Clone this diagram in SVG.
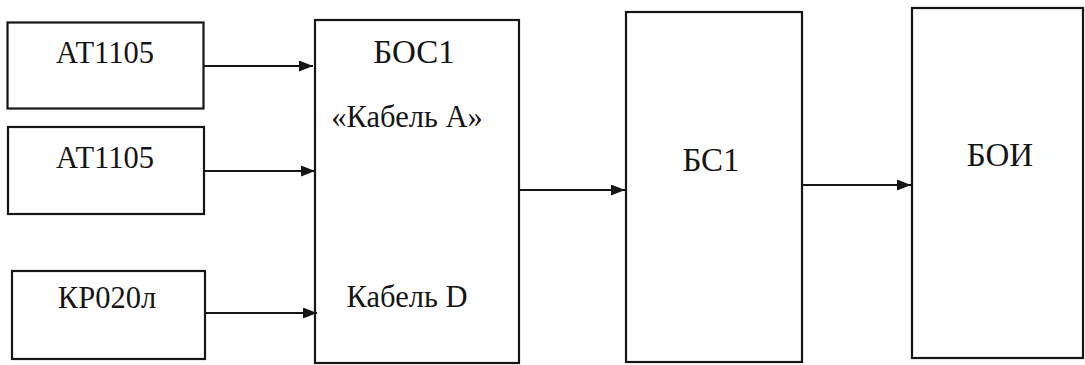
<svg xmlns="http://www.w3.org/2000/svg" width="1085" height="365" viewBox="0 0 1085 365">
<style>
.box{fill:#fff;stroke:#151515;stroke-width:2.2}
.lbl{font-family:'Liberation Serif','Times New Roman',serif;font-size:30.5px;fill:#151515;text-anchor:middle}
.ttl{font-size:33px}
.con{stroke:#151515;stroke-width:2.2;fill:none}
</style>
<defs>
<marker id="ah" markerWidth="14" markerHeight="11" refX="14" refY="5.5" orient="auto" markerUnits="userSpaceOnUse">
<path d="M0,0 L14,5.5 L0,11 Z" fill="#151515"/>
</marker>
</defs>
<rect width="1085" height="365" fill="#fff"/>
<g id="at1105a"><rect class="box" x="7.5" y="22.5" width="196" height="86"/><text class="lbl" x="105" y="63">АТ1105</text></g>
<g id="at1105b"><rect class="box" x="8" y="127" width="196" height="87"/><text class="lbl" x="105" y="168">АТ1105</text></g>
<g id="kr020l"><rect class="box" x="12" y="271" width="193" height="88"/><text class="lbl" x="107" y="308">КР020л</text></g>
<g id="bos1"><rect class="box" x="315" y="20" width="204" height="343"/><text class="lbl ttl" x="414" y="63">БОС1</text><text class="lbl" x="407" y="127">«Кабель А»</text><text class="lbl" x="407" y="307">Кабель D</text></g>
<g id="bs1"><rect class="box" x="626" y="12" width="176" height="350"/><text class="lbl ttl" x="711" y="171">БС1</text></g>
<g id="boi"><rect class="box" x="912" y="8" width="171" height="350"/><text class="lbl ttl" x="1000" y="166">БОИ</text></g>
<g id="connectors">
<line class="con" x1="204" y1="66" x2="313" y2="66" marker-end="url(#ah)"/>
<line class="con" x1="204" y1="171" x2="315" y2="171" marker-end="url(#ah)"/>
<line class="con" x1="205" y1="313" x2="317" y2="313" marker-end="url(#ah)"/>
<line class="con" x1="519" y1="190" x2="625" y2="190" marker-end="url(#ah)"/>
<line class="con" x1="802" y1="185" x2="911" y2="185" marker-end="url(#ah)"/>
</g>
</svg>
